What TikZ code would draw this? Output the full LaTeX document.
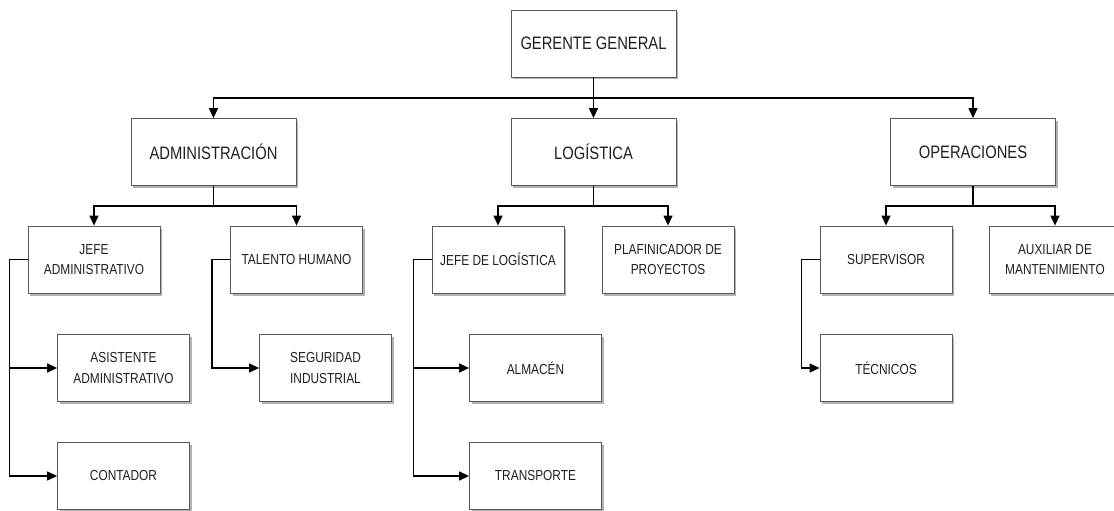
\documentclass[tikz,border=0pt]{standalone}
\usepackage{fontspec}
\setmainfont{Liberation Sans}[FakeStretch=0.82]
\usetikzlibrary{arrows.meta,shadows}
\tikzset{
  box/.style={draw=black!65, line width=0.8pt, fill=white, align=center,
    text=black!88, inner sep=2pt,
    drop shadow={shadow xshift=2pt, shadow yshift=-2.5pt, fill=black, opacity=0.3}},
  bigbox/.style={box, minimum width=165pt, minimum height=67pt, font=\fontsize{18}{22}\selectfont},
  smallbox/.style={box, minimum width=132pt, minimum height=67pt, font=\fontsize{14.5}{20.5}\selectfont},
  link/.style={line width=1.3pt, draw=black},
  arr/.style={link, -{Triangle[length=10pt,width=9pt]}}
}
\begin{document}
\begin{tikzpicture}[x=1pt,y=-1pt]
\useasboundingbox (0,0) rectangle (1114,511);
% level 1
\node[bigbox] (gg) at (593.5,43.5) {GERENTE GENERAL};
% level 2
\node[bigbox] (adm) at (213.5,152) {ADMINISTRACIÓN};
\node[bigbox] (log) at (593.5,152) {LOGÍSTICA};
\node[bigbox] (ope) at (973,152) {OPERACIONES};
% level 3
\node[smallbox] (ja) at (94,259.5) {JEFE\\ADMINISTRATIVO};
\node[smallbox] (th) at (296.5,259.5) {TALENTO HUMANO};
\node[smallbox] (jl) at (498,259.5) {JEFE DE LOGÍSTICA};
\node[smallbox] (pl) at (668,259.5) {PLAFINICADOR DE\\PROYECTOS};
\node[smallbox] (su) at (886,259.5) {SUPERVISOR};
\node[smallbox] (au) at (1055,259.5) {AUXILIAR DE\\MANTENIMIENTO};
% level 4
\node[smallbox] (as) at (123.5,368) {ASISTENTE\\ADMINISTRATIVO};
\node[smallbox] (co) at (123.5,476) {CONTADOR};
\node[smallbox] (se) at (325.5,368) {SEGURIDAD\\INDUSTRIAL};
\node[smallbox] (al) at (535.5,368) {ALMACÉN};
\node[smallbox] (tr) at (535.5,476) {TRANSPORTE};
\node[smallbox] (te) at (886,368) {TÉCNICOS};
% bus coordinates
\coordinate (b1) at (593.5,98);
\coordinate (b2) at (213.5,206);
\coordinate (b3) at (593.5,206);
\coordinate (b4) at (973,206);
% level 1 -> 2
\draw[arr] (gg.south) -- (log.north);
\draw[arr] (b1) -| (adm.north);
\draw[arr] (b1) -| (ope.north);
% level 2 -> 3
\draw[link] (adm.south) -- (b2);
\draw[arr] (b2) -| (ja.north);
\draw[arr] (b2) -| (th.north);
\draw[link] (log.south) -- (b3);
\draw[arr] (b3) -| (jl.north);
\draw[arr] (b3) -| (pl.north);
\draw[link] (ope.south) -- (b4);
\draw[arr] (b4) -| (su.north);
\draw[arr] (b4) -| (au.north);
% level 3 -> 4
\draw[arr] (ja.west) -- ++(-18,0) |- (as.west);
\draw[arr] (ja.west) -- ++(-18,0) |- (co.west);
\draw[arr] (th.west) -- ++(-18,0) |- (se.west);
\draw[arr] (jl.west) -- ++(-18,0) |- (al.west);
\draw[arr] (jl.west) -- ++(-18,0) |- (tr.west);
\draw[arr] (su.west) -- ++(-18,0) |- (te.west);
\end{tikzpicture}
\end{document}
